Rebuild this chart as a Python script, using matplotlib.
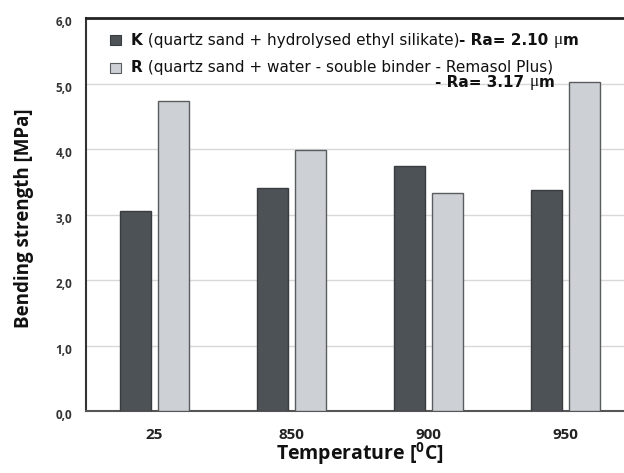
import numpy as np
import matplotlib
matplotlib.use('Agg')
import matplotlib.pyplot as plt
from matplotlib.patches import Rectangle
from matplotlib.ticker import FuncFormatter
from matplotlib.transforms import ScaledTranslation

# bending strength per temperature
temps = ['25', '850', '900', '950']
k_vals = [3.06, 3.40, 3.74, 3.38]
r_vals = [4.73, 3.99, 3.33, 5.02]

plt.rcParams['mathtext.fontset'] = 'custom'
plt.rcParams['mathtext.rm'] = 'Open Sans'
plt.rcParams['mathtext.bf'] = 'Open Sans:bold'

fig = plt.figure(figsize=(6.24, 4.73), dpi=100)
W, H = 624., 473.
# axes runs past right edge of picture, like the original crop
ax = fig.add_axes([86 / W, (H - 411) / H, 548 / W, 393 / H])

x = np.arange(len(temps))
bw = 0.226
off = 0.142
ax.bar(x - off, k_vals, bw, color='#4d5256', edgecolor='#3a3d40', linewidth=1.0, zorder=3)
ax.bar(x + off, r_vals, bw, color='#cdd0d5', edgecolor='#5a5d60', linewidth=1.0, zorder=3)

ax.set_xlim(-0.5, 3.5)
ax.set_ylim(0, 6)
ax.set_yticks(np.arange(0, 7, 1.0))
ax.yaxis.set_major_formatter(FuncFormatter(lambda v, p: ('%.1f' % v).replace('.', ',')))
ax.set_xticks(x)
ax.set_xticklabels(temps)
ax.grid(axis='y', color='#d8d8d8', linewidth=1.0, zorder=0)
ax.tick_params(length=0)
ax.tick_params(axis='y', pad=10)
ax.tick_params(axis='x', pad=12)
shift = ScaledTranslation(0, -3 / 100., fig.dpi_scale_trans)
for lab in ax.get_yticklabels():
    lab.set_fontfamily('Open Sans')
    lab.set_fontweight('bold')
    lab.set_fontsize(8.5)
    lab.set_color('#333333')
    lab.set_transform(lab.get_transform() + shift)
for lab in ax.get_xticklabels():
    lab.set_fontfamily('Open Sans')
    lab.set_fontweight('bold')
    lab.set_fontsize(11)
    lab.set_color('#222222')

ax.spines['right'].set_visible(False)
ax.spines['top'].set_linewidth(2.0)
ax.spines['top'].set_color('#222222')
ax.spines['left'].set_linewidth(1.5)
ax.spines['left'].set_color('#333333')
ax.spines['bottom'].set_linewidth(1.5)
ax.spines['bottom'].set_color('#555555')

ax.set_ylabel('Bending strength [MPa]', fontfamily='Open Sans', fontweight='bold',
              fontsize=13.5, color='#111111')
ax.set_xlabel(r'Temperature [$^{\mathbf{0}}$C]', fontfamily='Open Sans', fontweight='bold',
              fontsize=14, color='#111111')
ax.yaxis.set_label_coords(-0.095, 0.49)
ax.xaxis.set_label_coords(0.5, -0.075)

# legend drawn by hand so bold and plain parts can sit on one line
sq = 11 / 548.
sqh = 10 / 393.
ax.add_patch(Rectangle((24 / 548., 0.944 - sqh / 2), sq, sqh, transform=ax.transAxes,
                       facecolor='#4d5256', edgecolor='#3a3d40', lw=0.8, clip_on=False, zorder=5))
ax.add_patch(Rectangle((24 / 548., 0.874 - sqh / 2), sq, sqh, transform=ax.transAxes,
                       facecolor='#cdd0d5', edgecolor='#5a5d60', lw=0.8, clip_on=False, zorder=5))

fs = 11
fam = 'DejaVu Sans'


def chain(parts, xy0):
    prev = None
    for txt, wt, fm, size in parts:
        if prev is None:
            prev = ax.text(xy0[0], xy0[1], txt, transform=ax.transAxes, fontsize=size,
                           fontfamily=fm, fontweight=wt, va='center', ha='left',
                           color='#111111', zorder=6)
        else:
            prev = ax.annotate(txt, xy=(1, 0.5), xycoords=prev, va='center', ha='left',
                               fontsize=size, fontfamily=fm, fontweight=wt,
                               color='#111111', zorder=6)


chain([('K', 'bold', fam, fs), (' (quartz sand + hydrolysed ethyl silikate)', 'normal', fam, fs),
       ('- Ra= 2.10 ', 'bold', fam, fs), ('\u03bc', 'normal', 'Liberation Serif', 12.5),
       ('m', 'bold', fam, fs)], (45 / 548., 0.944))
chain([('R', 'bold', fam, fs),
       (' (quartz sand + water - souble binder - Remasol Plus)', 'normal', fam, fs)],
      (45 / 548., 0.874))
chain([('- Ra= 3.17 ', 'bold', fam, fs), ('\u03bc', 'normal', 'Liberation Serif', 12.5),
       ('m', 'bold', fam, fs)], (0.637, 0.837))

fig.savefig('out.png', dpi=100)
